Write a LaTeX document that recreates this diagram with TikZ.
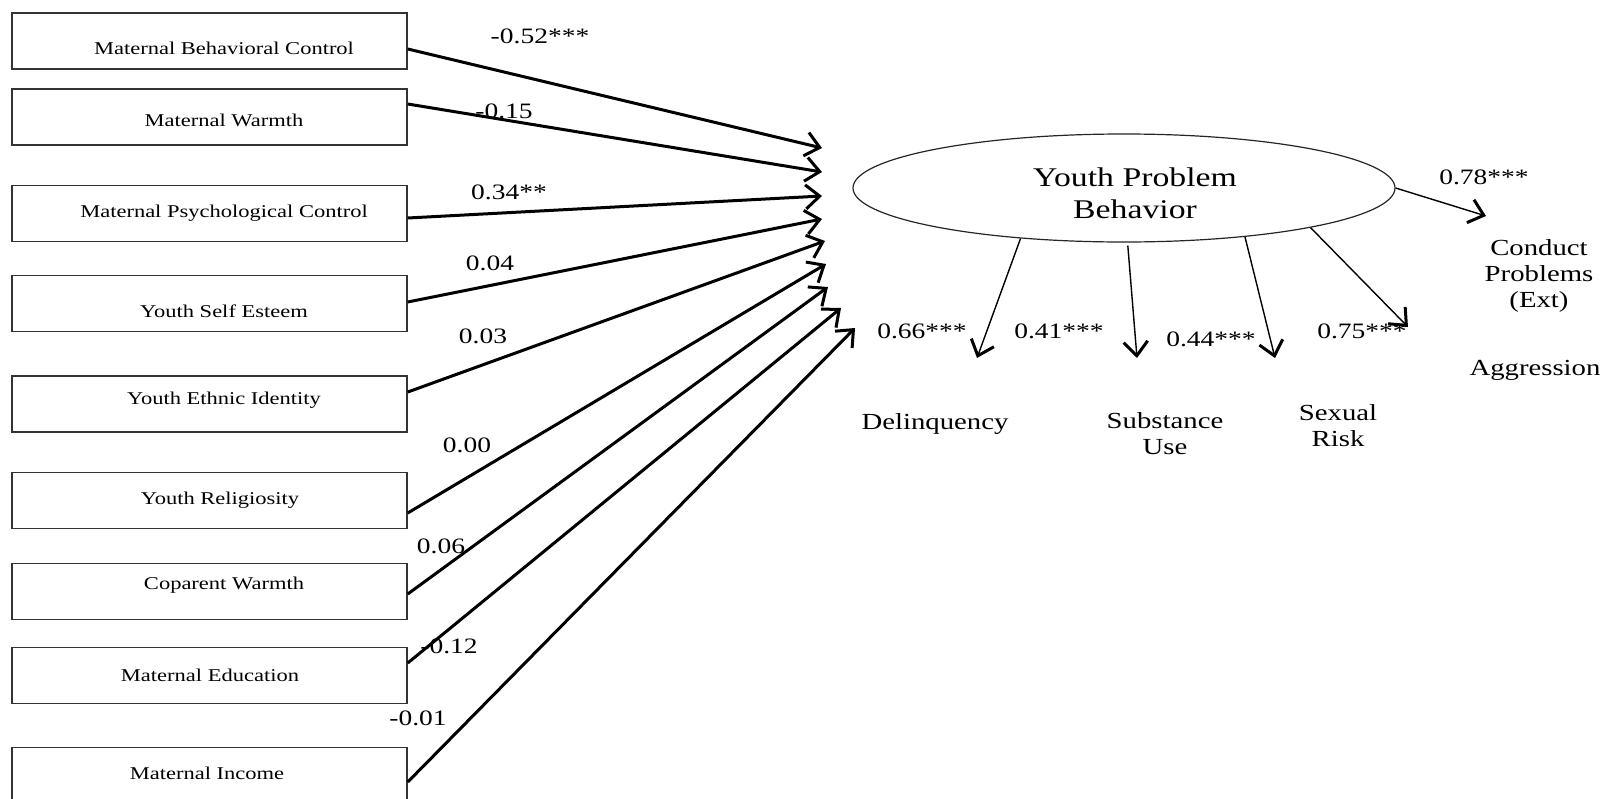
\documentclass[tikz,border=0pt]{standalone}
\usepackage{fontspec}
\setmainfont{Liberation Serif}[FakeStretch=1.25]
\usetikzlibrary{arrows.meta,shapes.geometric}
\begin{document}
\begin{tikzpicture}[x=1pt,y=-1pt,
  varbox/.style={draw=black!80, line width=1.5pt, minimum width=395pt, minimum height=56pt, inner sep=0pt},
  boxtext/.style={font=\fontsize{18}{22}\selectfont, inner sep=0pt},
  predline/.style={line width=3pt, -{Straight Barb[length=14pt,width=24pt]}},
  loadline/.style={line width=1.4pt, -{Straight Barb[length=14pt,width=24pt,line width=3pt]}},
  coef/.style={font=\fontsize{22}{26}\selectfont, inner sep=0pt},
  indic/.style={font=\fontsize{23}{26}\selectfont, align=center, inner sep=0pt}]

\useasboundingbox (0,0) rectangle (1612,798);
\fill[white] (0,0) rectangle (1612,798);

% predictor boxes
\node[varbox] (b1) at (209.5,41) {};
\node[varbox] (b2) at (209.5,117) {};
\node[varbox] (b3) at (209.5,213.5) {};
\node[varbox] (b4) at (209.5,303.5) {};
\node[varbox] (b5) at (209.5,404) {};
\node[varbox] (b6) at (209.5,500.5) {};
\node[varbox] (b7) at (209.5,591.5) {};
\node[varbox] (b8) at (209.5,675.5) {};
\node[varbox] (b9) at (209.5,775.5) {};

\node[boxtext] (t1) at (224,48) {Maternal Behavioral Control};
\node[boxtext] (t2) at (224,120) {Maternal Warmth};
\node[boxtext] (t3) at (224,213) {Maternal Psychological Control};
\node[boxtext] (t4) at (224,311) {Youth Self Esteem};
\node[boxtext] (t5) at (224,400) {Youth Ethnic Identity};
\node[boxtext] (t6) at (220,500) {Youth Religiosity};
\node[boxtext] (t7) at (224,585) {Coparent Warmth};
\node[boxtext] (t8) at (210,675) {Maternal Education};
\node[boxtext] (t9) at (207,773) {Maternal Income};

% latent factor
\node[ellipse, draw=black!85, line width=1.2pt, minimum width=542pt, minimum height=108pt, inner sep=0pt] (ypb) at (1124,188) {};
\node[font=\fontsize{27}{32}\selectfont, align=center, inner sep=0pt] (ypbt) at (1135,193) {Youth Problem\\Behavior};

% arrow tips near the factor
\coordinate (p1) at (822,148);
\coordinate (p2) at (822,172);
\coordinate (p3) at (822,196);
\coordinate (p4) at (822,219);
\coordinate (p5) at (825,241);
\coordinate (p6) at (826,264);
\coordinate (p7) at (828,287);
\coordinate (p8) at (841,308);
\coordinate (p9) at (855,328);

\draw[predline] ([yshift=-8pt]b1.east) -- (p1);
\draw[predline] ([yshift=13pt]b2.east) -- (p2);
\draw[predline] ([yshift=-4.5pt]b3.east) -- (p3);
\draw[predline] ([yshift=1.5pt]b4.east) -- (p4);
\draw[predline] ([yshift=12pt]b5.east) -- (p5);
\draw[predline] ([yshift=-12.5pt]b6.east) -- (p6);
\draw[predline] ([yshift=-2.5pt]b7.east) -- (p7);
\draw[predline] ([yshift=12.5pt]b8.east) -- (p8);
\draw[predline] ([yshift=-6.5pt]b9.east) -- (p9);

% path coefficients
\node[coef] (c1) at (540,36) {-0.52***};
\node[coef] (c2) at (504,111) {-0.15};
\node[coef] (c3) at (509,192) {0.34**};
\node[coef] (c4) at (490,263) {0.04};
\node[coef] (c5) at (483,336) {0.03};
\node[coef] (c6) at (467,445) {0.00};
\node[coef] (c7) at (441,546) {0.06};
\node[coef] (c8) at (449,646) {-0.12};
\node[coef] (c9) at (418,718) {-0.01};

% indicators
\coordinate (d1) at (977,358);
\coordinate (d2) at (1137,358);
\coordinate (d3) at (1275,358);
\coordinate (d4) at (1408,327);
\coordinate (d5) at (1486,216);

\draw[loadline] (ypb.206) -- (d1);
\draw[loadline] ([yshift=-3pt]ypb.274) -- (d2);
\draw[loadline] (ypb.338) -- (d3);
\draw[loadline] (ypb.348) -- (d4);
\draw[loadline] (ypb.east) -- (d5);

\node[coef] (l1) at (922,331) {0.66***};
\node[coef] (l2) at (1059,331) {0.41***};
\node[coef] (l3) at (1211,339) {0.44***};
\node[coef] (l4) at (1362,331) {0.75***};
\node[coef] (l5) at (1484,177) {0.78***};

\node[indic] (i1) at (935,424) {Delinquency};
\node[indic] (i2) at (1165,434) {Substance\\Use};
\node[indic] (i3) at (1338,426) {Sexual\\Risk};
\node[indic] (i4) at (1539,276) {Conduct\\Problems\\(Ext)};
\node[indic] (i5) at (1535,370) {Aggression};
\end{tikzpicture}
\end{document}
